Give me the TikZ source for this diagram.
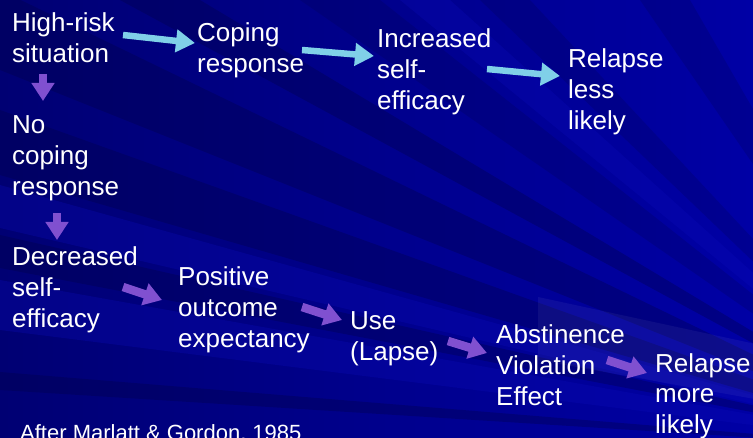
\documentclass[tikz,border=0pt]{standalone}
\usepackage{fontspec}
\setmainfont{Liberation Sans}
\usetikzlibrary{arrows.meta}
\definecolor{bgleft}{RGB}{0,0,115}
\definecolor{bgright}{RGB}{0,0,165}
\definecolor{bgdark}{RGB}{0,0,70}
\definecolor{bglight}{RGB}{10,10,185}
\definecolor{cyanarr}{RGB}{128,208,232}
\definecolor{purparr}{RGB}{128,80,208}
\tikzset{
  lbl/.style={anchor=base west, inner sep=0pt, align=left, text=white,
    font=\fontsize{26}{31}\selectfont},
  cite/.style={anchor=base west, inner sep=0pt, text=white,
    font=\fontsize{22}{26}\selectfont},
  carrow/.style={draw=cyanarr, line width=6.5pt, -{Triangle[length=19pt,width=22pt]}},
  parrow/.style={draw=purparr, line width=8.5pt, -{Triangle[length=18pt,width=22pt]}},
  darkray/.style={fill=bgdark, opacity=0.33},
  softray/.style={fill=bgdark, opacity=0.2},
  lightray/.style={fill=bglight, opacity=0.3}
}
\begin{document}
\begin{tikzpicture}[x=1pt,y=-1pt]
\useasboundingbox (0,0) rectangle (753,438);
\clip (0,0) rectangle (753,438);
% background
\shade[left color=bgleft, right color=bgright] (0,0) rectangle (753,438);
\coordinate (C) at (950,450);
\fill[darkray] (C) -- (0,-10) -- (0,70) -- cycle;
\fill[darkray] (C) -- (0,110) -- (0,175) -- cycle;
\fill[darkray] (C) -- (0,235) -- (0,268) -- cycle;
\fill[darkray] (C) -- (0,372) -- (0,390) -- cycle;
\fill[darkray] (C) -- (120,0) -- (200,0) -- cycle;
\fill[softray] (C) -- (300,0) -- (380,0) -- cycle;
\fill[softray] (C) -- (480,0) -- (530,0) -- cycle;
\fill[softray] (C) -- (640,0) -- (690,0) -- cycle;
\fill[lightray] (C) -- (0,185) -- (0,228) -- cycle;
\fill[lightray] (C) -- (0,280) -- (0,330) -- cycle;
\fill[lightray] (C) -- (400,0) -- (450,0) -- cycle;
\fill[white, opacity=0.05] (538,297) -- (760,345) -- (760,400) -- (538,360) -- cycle;
% text nodes (anchored at the baseline of the last line)
\node[lbl] (hr)  at (12,63)   {High-risk\\situation};
\node[lbl] (cr)  at (197,73)  {Coping\\response};
\node[lbl] (ise) at (377,110) {Increased\\self-\\efficacy};
\node[lbl] (rll) at (568,130) {Relapse\\less\\likely};
\node[lbl] (ncr) at (12,196)  {No\\coping\\response};
\node[lbl] (dse) at (12,328)  {Decreased\\self-\\efficacy};
\node[lbl] (poe) at (178,348) {Positive\\outcome\\expectancy};
\node[lbl] (use) at (350,361) {Use\\(Lapse)};
\node[lbl] (ave) at (496,406) {Abstinence\\Violation\\Effect};
\node[lbl] (rml) at (655,434) {Relapse\\more\\likely};
\node[cite] (src) at (20,441) {After Marlatt \& Gordon, 1985};
% arrow end points
\coordinate (a1s) at (123,35);  \coordinate (a1e) at (195,43);
\coordinate (a2s) at (302,50);  \coordinate (a2e) at (374,56);
\coordinate (a3s) at (487,69);  \coordinate (a3e) at (560,76);
\coordinate (d1s) at (43,74);   \coordinate (d1e) at (43,101);
\coordinate (d2s) at (57,213);  \coordinate (d2e) at (57,240);
\coordinate (p1s) at (123,287); \coordinate (p1e) at (162,300);
\coordinate (p2s) at (302,307); \coordinate (p2e) at (342,320);
\coordinate (p3s) at (448,341); \coordinate (p3e) at (487,353);
\coordinate (p4s) at (607,360); \coordinate (p4e) at (647,373);
% connectors
\draw[carrow] (a1s) -- (a1e);
\draw[carrow] (a2s) -- (a2e);
\draw[carrow] (a3s) -- (a3e);
\draw[parrow] (d1s) -- (d1e);
\draw[parrow] (d2s) -- (d2e);
\draw[parrow] (p1s) -- (p1e);
\draw[parrow] (p2s) -- (p2e);
\draw[parrow] (p3s) -- (p3e);
\draw[parrow] (p4s) -- (p4e);
\end{tikzpicture}
\end{document}
